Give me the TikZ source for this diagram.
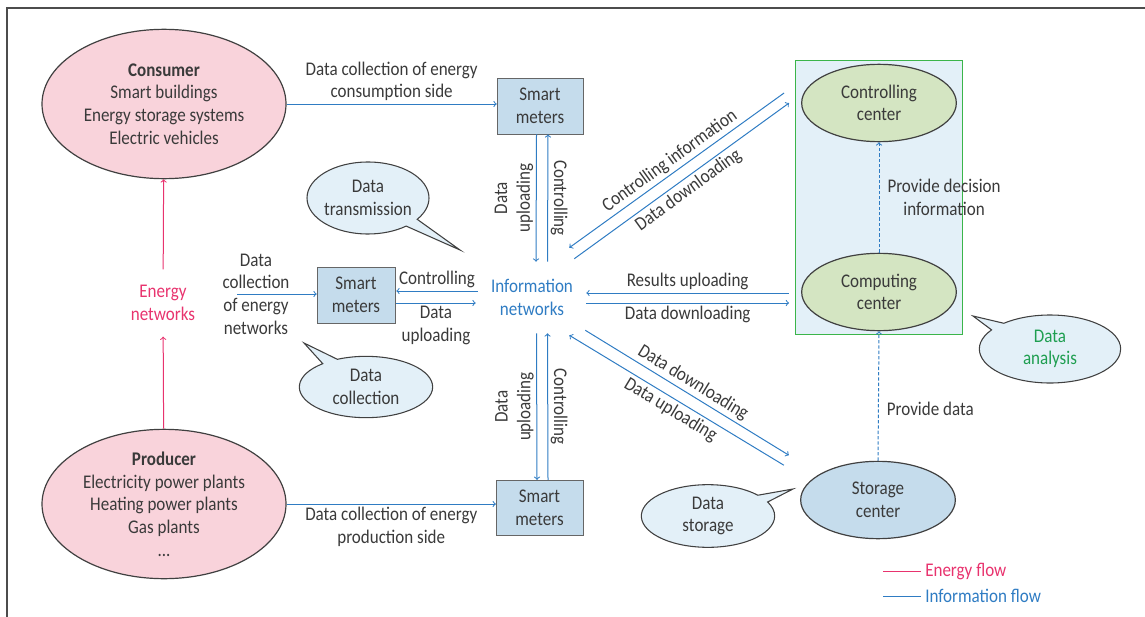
\documentclass[tikz,border=0pt]{standalone}
\usepackage{fontspec}
\setmainfont{Carlito}[FakeStretch=0.88]
\usetikzlibrary{shapes,shapes.callouts,arrows,positioning,calc,fit,backgrounds}

\definecolor{energyred}{HTML}{E8336E}
\definecolor{infoblue}{HTML}{2F7CC3}
\definecolor{txtgray}{HTML}{3A3A3A}
\definecolor{pinkfill}{HTML}{F9D3DB}
\definecolor{meterfill}{HTML}{C5DCEC}
\definecolor{greenfill}{HTML}{D4E5C2}
\definecolor{bubblefill}{HTML}{E3F0F8}
\definecolor{boxgreen}{HTML}{3BB54A}
\definecolor{analysisgreen}{HTML}{1E9E50}

\begin{document}
\begin{tikzpicture}[x=0.75pt, y=-0.75pt, font=\fontsize{14.5}{17}\selectfont, text=txtgray]

\tikzstyle{actor} = [ellipse, draw=black!75, line width=0.9pt, fill=pinkfill, inner sep=0pt, align=center, minimum width=183pt, minimum height=112pt]

\tikzstyle{hub} = [ellipse, draw=black!75, line width=0.9pt, fill=greenfill, inner sep=0pt, align=center, minimum width=116pt, minimum height=58pt]

\tikzstyle{meter} = [rectangle, draw=black!60, fill=meterfill, align=center, inner sep=0pt]

\tikzstyle{bubble} = [ellipse callout, draw=black!75, line width=0.8pt, fill=bubblefill, align=center, inner sep=-4pt]

\tikzstyle{infoline} = [color=infoblue, line width=0.75pt]
\tikzstyle{energyline} = [color=energyred, line width=0.75pt]
\tikzstyle{txt} = [align=center, inner sep=2pt, text=txtgray]

\useasboundingbox (0,0) rectangle (1145,617);
\draw[black!70, line width=1pt] (7,617) -- (7,8) -- (1145,8);

% energy side
\node [actor] (cons) at (164,104) {\textbf{Consumer}\\Smart buildings\\Energy storage systems\\Electric vehicles};
\node [actor] (prod) at (164,504) {\textbf{Producer}\\Electricity power plants\\Heating power plants\\Gas plants\\...};
\node [txt, text=energyred, inner sep=0pt, minimum height=50pt] (enet) at (163,303) {Energy\\networks};

\draw[energyline, ->] (prod) -- (enet);
\draw[energyline, ->] (enet) -- (cons);

% smart meters
\node [meter, minimum width=64.5pt, minimum height=42pt] (sm1) at (540,106) {Smart\\meters};
\node [meter, minimum width=58.5pt, minimum height=42pt] (sm2) at (356,295) {Smart\\meters};
\node [meter, minimum width=65pt, minimum height=41pt] (sm3) at (539.5,507.5) {Smart\\meters};

\node [txt, text=infoblue, inner sep=0pt, minimum width=81pt, minimum height=53.25pt] (info) at (532,297.5) {Information\\networks};

% centers
\node [hub] (ctrl) at (879,103) {Controlling\\center};
\node [hub] (comp) at (879,292) {Computing\\center};
\node [hub, fill=meterfill] (stor) at (878,500) {Storage\\center};

\begin{scope}[on background layer]
\node [draw=boxgreen, line width=0.8pt, fill=bubblefill, inner xsep=4.5pt, inner ysep=2.5pt, fit=(ctrl) (comp)] (cbox) {};
\end{scope}

% collection lines
\path[infoline, ->] (cons.east) edge node[midway, above, txt] {Data collection of energy\\consumption side} (cons.east -| sm1.west);
\path[infoline, ->] (prod.east) edge node[midway, below, txt] {Data collection of energy\\production side} (prod.east -| sm3.west);

\coordinate (en_tap) at (237,294);
\node [txt, inner sep=0pt] (en_txt) at (256,294) {Data\\collection\\of energy\\networks};
\path[infoline, ->] (en_tap) edge (en_tap -| sm2.west);

% smart meters <-> information networks
\path[infoline, ->] ($(sm1.south)+(-3.5,0)$) edge node[midway, rotate=90, anchor=south, txt] {Data\\uploading} ($(info.north)+(4,0)$);
\path[infoline, ->] ($(info.north)+(15.5,0)$) edge node[midway, rotate=-90, anchor=south, txt] {Controlling} ($(sm1.south)+(8,0)$);

\path[infoline, ->] ($(info.south)+(4.5,0)$) edge node[midway, rotate=90, anchor=south, txt] {Data\\uploading} ($(sm3.north)+(-2.5,0)$);
\path[infoline, ->] ($(sm3.north)+(8.5,0)$) edge node[midway, rotate=-90, anchor=south, txt] {Controlling} ($(info.south)+(15.5,0)$);

\path[infoline, <-] ($(sm2.east)+(1,-4)$) edge node[midway, above, txt] {Controlling} ($(info.west)+(0,-6.5)$);
\path[infoline, ->] ($(sm2.east)+(1,8)$) edge node[midway, below, txt] {Data\\uploading} ($(info.west)+(-2,5.5)$);

% information networks <-> centers
\path[infoline, <-] ($(info.north east)+(-17,-14)$) edge node[midway, sloped, above, txt] {Controlling information} ($(ctrl.west)+(-17,-10)$);
\path[infoline, ->] ($(info.north east)+(-12,-3)$) edge node[midway, sloped, below, txt] {Data downloading} ($(ctrl.west)+(-12,0)$);

\path[infoline, <-] ($(info.east)+(0,-4.5)$) edge node[midway, above, txt] {Results uploading} ($(comp.west)+(-12,1)$);
\path[infoline, ->] ($(info.east)+(0,5.5)$) edge node[midway, below, txt] {Data downloading} ($(comp.west)+(-12,11)$);

\path[infoline, ->] ($(info.south east)+(-1,-3)$) edge node[midway, sloped, above, txt] {Data downloading} ($(stor.north west)+(-34,-17)$);
\path[infoline, <-] ($(info.south east)+(-17,2)$) edge node[midway, sloped, below, txt] {Data uploading} ($(stor.north west)+(-39,-7)$);

% inside the center group
\path[infoline, ->, dash pattern=on 2.5pt off 1.5pt] (comp.north) edge node[midway, anchor=west, xshift=4pt, txt] {Provide decision\\information} (ctrl.south);
\path[infoline, ->, dash pattern=on 2.5pt off 1.5pt] (stor.north) edge node[pos=0.4, anchor=west, xshift=4pt, txt] {Provide data} (comp.south);

% bubbles
\node [bubble, minimum width=91.5pt, minimum height=54pt, callout absolute pointer={(460,250)}] (b_trans) at (368,198) {Data\\transmission};
\node [bubble, minimum width=100pt, minimum height=46pt, callout absolute pointer={(304,343)}] (b_coll) at (366,387) {Data\\collection};
\node [bubble, minimum width=100pt, minimum height=47pt, callout absolute pointer={(793,489)}] (b_stor) at (708,516) {Data\\storage};
\node [bubble, text=analysisgreen, minimum width=106pt, minimum height=51pt, callout absolute pointer={(973,316)}] (b_anal) at (1050,349) {Data\\analysis};

% legend
\coordinate (leg_e0) at (883,571);
\coordinate (leg_i0) at (883,596);
\node [anchor=west, text=energyred, inner sep=3pt] (leg_energy) at (921,571) {Energy flow};
\node [anchor=west, text=infoblue, inner sep=3pt] (leg_info) at (921,596) {Information flow};
\draw[energyline] (leg_e0) -- (leg_energy.west);
\draw[infoline] (leg_i0) -- (leg_info.west);

\end{tikzpicture}
\end{document}
